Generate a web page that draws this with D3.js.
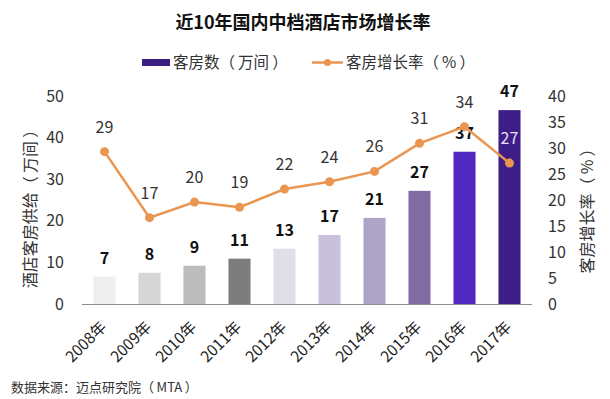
<!DOCTYPE html>
<html>
<head>
<meta charset="utf-8">
<script src="https://cdn.jsdelivr.net/npm/d3@7"></script>
<style>
  body { margin: 0; background: #fff; }
  text { font-family: "Noto Sans CJK SC", "Noto Sans", sans-serif; }
</style>
</head>
<body>
<div class="chart"></div>
<script>
const years = ["2008年", "2009年", "2010年", "2011年", "2012年", "2013年", "2014年", "2015年", "2016年", "2017年"];
const rooms = [6.6, 7.5, 9.2, 10.9, 13.3, 16.6, 20.7, 27.2, 36.6, 46.6];
const roomLabels = [7, 8, 9, 11, 13, 17, 21, 27, 37, 47];
const growth = [29.3, 16.6, 19.6, 18.6, 22.1, 23.5, 25.5, 30.9, 34.1, 27.1];
const growthLabels = [29, 17, 20, 19, 22, 24, 26, 31, 34, 27];
const barColors = ["#eeeeee", "#d6d6d6", "#bdbbbc", "#7e7d7e", "#e0dfe8", "#c9c1dc", "#aea4c8", "#836ba5", "#5128c0", "#3d1e86"];
const leftTicks = [0, 10, 20, 30, 40, 50];
const rightTicks = [0, 5, 10, 15, 20, 25, 30, 35, 40];

const W = 610, H = 399;
const plotL = 82, plotR = 532, plotT = 96, plotB = 304;
const orange = "#ea9550";

const svg = d3.select(".chart").append("svg")
    .attr("width", W)
    .attr("height", H);

// scales
const x = d3.scaleBand().domain(years).range([plotL, plotR]).paddingInner(0.51).paddingOuter(0.255);
const yL = d3.scaleLinear().domain([0, 50]).range([plotB, plotT]);
const yR = d3.scaleLinear().domain([0, 40]).range([plotB, plotT]);
const cx = d => x(d) + x.bandwidth() / 2;

// title
svg.append("text")
    .attr("x", 303).attr("y", 29)
    .attr("text-anchor", "middle")
    .attr("font-size", 18).attr("font-weight", "bold").attr("fill", "#111")
    .text("近10年国内中档酒店市场增长率");

// legend
svg.append("rect").attr("x", 142).attr("y", 59).attr("width", 28).attr("height", 7).attr("fill", "#3a1e80");
svg.append("text").attr("x", 173).attr("y", 68).attr("font-size", 15.5).attr("fill", "#333").text("客房数（\u2009万间\u2009）");
svg.append("line").attr("x1", 312).attr("x2", 343).attr("y1", 62.5).attr("y2", 62.5).attr("stroke", orange).attr("stroke-width", 2.5);
svg.append("circle").attr("cx", 327.5).attr("cy", 62.5).attr("r", 3.5).attr("fill", orange);
svg.append("text").attr("x", 346).attr("y", 68).attr("font-size", 15.5).attr("fill", "#333").text("客房增长率（\u2009%\u2009）");

// bars
svg.selectAll("rect.bar")
    .data(years)
    .join("rect")
    .attr("class", "bar")
    .attr("x", d => x(d))
    .attr("y", (d, i) => yL(rooms[i]))
    .attr("width", x.bandwidth())
    .attr("height", (d, i) => plotB - yL(rooms[i]))
    .attr("fill", (d, i) => barColors[i]);

// baseline
svg.append("line")
    .attr("x1", plotL).attr("x2", plotR)
    .attr("y1", plotB + 0.5).attr("y2", plotB + 0.5)
    .attr("stroke", "#8f8a95").attr("stroke-width", 1.2);

// left axis
const axL = svg.append("g")
    .attr("transform", `translate(${plotL - 18},0)`)
    .call(d3.axisLeft(yL).tickValues(leftTicks).tickSize(0).tickPadding(0));
axL.select(".domain").remove();
axL.selectAll("text").attr("font-size", 16).attr("fill", "#333").attr("font-family", "Noto Sans CJK SC, sans-serif");

// right axis
const axR = svg.append("g")
    .attr("transform", `translate(${plotR + 16},0)`)
    .call(d3.axisRight(yR).tickValues(rightTicks).tickSize(0).tickPadding(0));
axR.select(".domain").remove();
axR.selectAll("text").attr("font-size", 16).attr("fill", "#333").attr("font-family", "Noto Sans CJK SC, sans-serif");

// axis titles
svg.append("text")
    .attr("transform", "translate(36,205) rotate(-90)")
    .attr("text-anchor", "middle")
    .attr("font-size", 16).attr("fill", "#333")
    .text("酒店客房供给（\u2009万间\u2009）");
svg.append("text")
    .attr("transform", "translate(593,207) rotate(-90)")
    .attr("text-anchor", "middle")
    .attr("font-size", 16).attr("fill", "#333")
    .text("客房增长率（\u2009%\u2009）");

// x labels
svg.selectAll("text.xl")
    .data(years)
    .join("text")
    .attr("class", "xl")
    .attr("transform", d => `translate(${cx(d) + 3},${plotB + 24}) rotate(-45)`)
    .attr("text-anchor", "end")
    .attr("font-size", 15.5).attr("fill", "#222")
    .text(d => d);

// bar value labels
svg.selectAll("text.bl")
    .data(years)
    .join("text")
    .attr("class", "bl")
    .attr("x", d => cx(d))
    .attr("y", (d, i) => yL(rooms[i]) - 13)
    .attr("text-anchor", "middle")
    .attr("font-size", 16).attr("font-weight", "bold").attr("fill", "#111")
    .text((d, i) => roomLabels[i]);

// growth line
const line = d3.line().x(d => cx(d)).y((d, i) => yR(growth[i]));
svg.append("path")
    .datum(years)
    .attr("d", line)
    .attr("fill", "none")
    .attr("stroke", orange)
    .attr("stroke-width", 2.5);
svg.selectAll("circle.pt")
    .data(years)
    .join("circle")
    .attr("class", "pt")
    .attr("cx", d => cx(d))
    .attr("cy", (d, i) => yR(growth[i]))
    .attr("r", 4.5)
    .attr("fill", orange);
svg.selectAll("text.gl")
    .data(years)
    .join("text")
    .attr("class", "gl")
    .attr("x", d => cx(d))
    .attr("y", (d, i) => yR(growth[i]) - 19)
    .attr("text-anchor", "middle")
    .attr("font-size", 16)
    .attr("fill", (d, i) => i === years.length - 1 ? "#e8e0f6" : "#333")
    .text((d, i) => growthLabels[i]);

// source
svg.append("text")
    .attr("x", 11).attr("y", 392)
    .attr("font-size", 13).attr("fill", "#333")
    .text("数据来源：迈点研究院（\u2009MTA\u2009）");
</script>
</body>
</html>
